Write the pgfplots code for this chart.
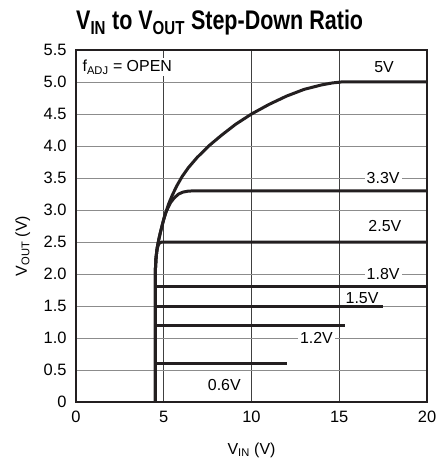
\documentclass[border=0pt]{standalone}
\usepackage{fontspec}
\setmainfont{Liberation Sans}
\newfontfamily\titlefont[FakeStretch=0.8]{Liberation Sans}
\usepackage{pgfplots}
\pgfplotsset{compat=1.18}
\definecolor{curve}{HTML}{231F20}
\begin{document}
\begin{tikzpicture}
\begin{axis}[
    name=ax,
    scale only axis,
    width=351bp, height=352bp,
    xmin=0, xmax=20, ymin=0, ymax=5.5,
    xtick={0,5,10,15,20},
    ytick={0,0.5,1,1.5,2,2.5,3,3.5,4,4.5,5,5.5},
    yticklabels={0,0.5,1.0,1.5,2.0,2.5,3.0,3.5,4.0,4.5,5.0,5.5},
    major tick length=0pt,
    xmajorgrids, ymajorgrids,
    x grid style={black!75, line width=0.8pt},
    y grid style={black!45, line width=1pt},
    axis line style={line width=1.4pt, curve},
    /pgf/number format/assume math mode=true,
    tick label style={font=\fontsize{16.5}{16.5}\selectfont},
    xticklabel style={yshift=-6bp},
    yticklabel style={xshift=-6bp},
    label style={font=\fontsize{16}{16}\selectfont},
    xlabel={V\textsubscript{IN} (V)},
    xlabel style={at={(axis description cs:0.5,-0.148)}, anchor=base},
    ylabel={V\textsubscript{OUT} (V)},
    ylabel style={at={(axis description cs:-0.14,0.443)}, anchor=base},
    clip=false,
]
\pgfplotsset{vline/.style={curve, line width=3bp, line join=round, line cap=butt, mark=none}}
% 0.6V
\addplot[vline] coordinates {(4.52,0) (4.52,0.6) (12,0.6)};
% 1.2V
\addplot[vline] coordinates {(4.52,0) (4.52,1.2) (15.3,1.2)};
% 1.5V
\addplot[vline] coordinates {(4.52,0) (4.52,1.5) (17.5,1.5)};
% 1.8V
\addplot[vline] coordinates {(4.52,0) (4.52,1.8) (20,1.8)};
% 2.5V
\addplot[vline] coordinates {(4.52,0) (4.52,1.9) (4.53,2.1) (4.56,2.25) (4.60,2.35) (4.65,2.42) (4.72,2.47) (4.80,2.49) (4.9,2.5) (20,2.5)};
% 3.3V
\addplot[vline] coordinates {(4.52,0) (4.52,1.9) (4.53,2.1) (4.56,2.25) (4.62,2.4) (4.71,2.53) (4.80,2.64) (4.90,2.75) (5.02,2.88) (5.12,2.96) (5.25,3.04) (5.40,3.12) (5.60,3.19) (5.85,3.25) (6.1,3.28) (6.4,3.295) (6.8,3.3) (20,3.3)};
% 5V
\addplot[vline] coordinates {(4.52,0) (4.52,1.9) (4.53,2.1) (4.56,2.25) (4.62,2.4) (4.71,2.53) (4.80,2.64) (4.90,2.75) (5.02,2.87) (5.15,2.99) (5.30,3.11) (5.50,3.24) (5.75,3.38) (6.04,3.52) (6.40,3.66) (6.90,3.82) (7.56,4.0) (8.30,4.17) (9.10,4.34) (10.0,4.5) (11.0,4.65) (12.0,4.78) (13.0,4.885) (14.0,4.955) (14.6,4.985) (15.1,5.0) (20,5.0)};

\begin{scope}[every node/.style={font=\fontsize{16}{16}\selectfont, fill=white, inner sep=2bp}]
\node at (axis cs:17.55,5.23) {5V};
\node at (axis cs:17.5,3.5) {3.3V};
\node at (axis cs:17.6,2.75) {2.5V};
\node at (axis cs:17.5,2.0) {1.8V};
\node[fill=none] at (axis cs:16.3,1.63) {1.5V};
\node at (axis cs:13.7,1.0) {1.2V};
\node at (axis cs:8.45,0.27) {0.6V};
\node[anchor=west] at (axis cs:0.25,5.23) {f\textsubscript{ADJ} = OPEN};
\end{scope}
\node[anchor=base west, font=\titlefont\bfseries\fontsize{27}{27}\selectfont, inner sep=0pt]
    at ([yshift=20bp]rel axis cs:0,1) {V\textsubscript{IN} to V\textsubscript{OUT} Step-Down Ratio};
\end{axis}
\pgfresetboundingbox
\path ([xshift=-76bp,yshift=-61bp]ax.south west) rectangle ([xshift=9bp,yshift=50bp]ax.north east);
\end{tikzpicture}
\end{document}
